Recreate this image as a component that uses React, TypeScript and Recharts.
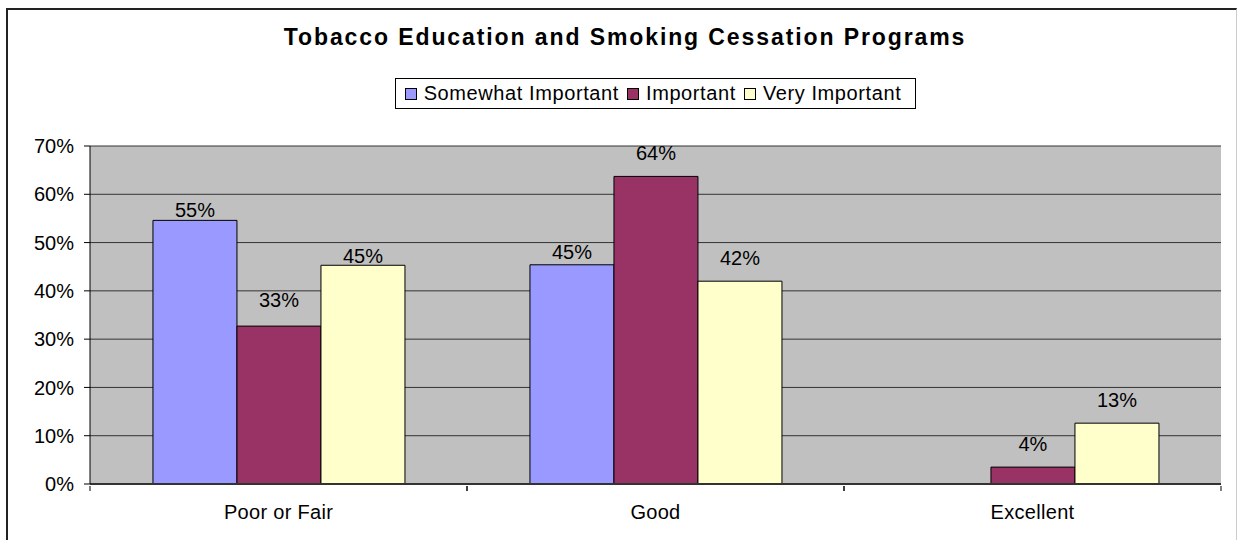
import {
  Bar,
  BarChart,
  CartesianGrid,
  LabelList,
  XAxis,
  YAxis,
} from "recharts";

const categories = ["Poor or Fair", "Good", "Excellent"];
const somewhatImportant = [54.6, 45.4, null];
const important = [32.7, 63.7, 3.5];
const veryImportant = [45.3, 42.0, 12.6];
const yTicks = [0, 10, 20, 30, 40, 50, 60, 70];

const seriesInfo = [
  { key: "somewhat", name: "Somewhat Important", color: "#9999FF", lift: [10, 13, 0] },
  { key: "important", name: "Important", color: "#993366", lift: [26, 23, 23] },
  { key: "very", name: "Very Important", color: "#FFFFCC", lift: [9, 23, 23] },
];

const data = categories.map((name, i) => ({
  name,
  somewhat: somewhatImportant[i],
  important: important[i],
  very: veryImportant[i],
}));

const FONT = "'Liberation Sans', Arial, sans-serif";

function makeLabel(lift: number[]) {
  return (props: any) => {
    const { x, y, width, value, index } = props;
    if (value === null || value === undefined) return null;
    return (
      <text
        x={Number(x) + Number(width) / 2}
        y={Number(y) - lift[index]}
        textAnchor="middle"
        dominantBaseline="central"
        fontSize={20}
        fontFamily={FONT}
        fill="#000"
      >
        {`${Math.round(Number(value))}%`}
      </text>
    );
  };
}

function CategoryTick(props: any) {
  const { x, y, payload } = props;
  const half = payload && payload.offset ? payload.offset : 188.5;
  return (
    <g>
      <line x1={x - half} x2={x - half} y1={y - 6} y2={y - 1} stroke="#000" />
      <line x1={x + half} x2={x + half} y1={y - 6} y2={y - 1} stroke="#000" />
      <text
        x={x}
        y={y + 27}
        textAnchor="middle"
        fontSize={20}
        letterSpacing={0.3}
        fontFamily={FONT}
        fill="#000"
      >
        {payload.value}
      </text>
    </g>
  );
}

function LegendBox() {
  return (
    <div
      style={{
        display: "inline-flex",
        alignItems: "center",
        border: "1px solid #000",
        background: "#fff",
        padding: "0 6px 0 9px",
        fontFamily: FONT,
        fontSize: 20,
        letterSpacing: 0.6,
        color: "#000",
        height: 29,
      }}
    >
      {seriesInfo.map((s) => (
        <span
          key={s.key}
          style={{ display: "inline-flex", alignItems: "center", marginRight: 8 }}
        >
          <span
            style={{
              width: 10,
              height: 10,
              border: "1px solid #000",
              background: s.color,
              marginRight: 7,
              display: "inline-block",
            }}
          />
          {s.name}
        </span>
      ))}
    </div>
  );
}

export default function App() {
  return (
    <div style={{ position: "absolute", left: 0, top: 0, width: 1239, height: 540 }}>
      <div
        style={{
          position: "absolute",
          left: 6,
          top: 8,
          width: 1231,
          height: 540,
          borderLeft: "2px solid #222",
          borderTop: "2px solid #222",
          borderRight: "1px solid #ccc",
          boxSizing: "border-box",
        }}
      />
      <div
        style={{
          position: "absolute",
          left: 0,
          top: 24,
          width: 1250,
          textAlign: "center",
          fontFamily: FONT,
          fontWeight: "bold",
          fontSize: 23,
          letterSpacing: 1.9,
          color: "#000",
        }}
      >
        Tobacco Education and Smoking Cessation Programs
      </div>
      <div
        style={{
          position: "absolute",
          left: 90,
          top: 78,
          width: 1131,
          textAlign: "center",
        }}
      >
        <LegendBox />
      </div>
      <BarChart
        width={1239}
        height={540}
        data={data}
        margin={{ top: 146, right: 18, left: 30, bottom: 26 }}
        barCategoryGap="16.7%"
        barGap={0}
      >
        <CartesianGrid
          horizontal
          vertical={false}
          fill="#C0C0C0"
          fillOpacity={1}
          stroke="#333"
        />
        <XAxis
          dataKey="name"
          axisLine={{ stroke: "#333", strokeWidth: 2 }}
          tickLine={false}
          tick={<CategoryTick />}
          height={30}
          interval={0}
        />
        <YAxis
          domain={[0, 70]}
          ticks={yTicks}
          tickFormatter={(v) => `${v}%`}
          axisLine={{ stroke: "#000" }}
          tickLine={{ stroke: "#000" }}
          tickSize={6}
          tickMargin={10}
          width={60}
          tick={{ fill: "#000", fontSize: 20, fontFamily: FONT }}
        />
        <YAxis
          yAxisId="right"
          orientation="right"
          width={0}
          tick={false}
          tickLine={false}
          axisLine={{ stroke: "#808080" }}
        />
        {seriesInfo.map((s) => (
          <Bar
            key={s.key}
            dataKey={s.key}
            name={s.name}
            fill={s.color}
            stroke="#000"
            strokeWidth={1}
            isAnimationActive={false}
          >
            <LabelList dataKey={s.key} content={makeLabel(s.lift)} />
          </Bar>
        ))}
      </BarChart>
    </div>
  );
}
